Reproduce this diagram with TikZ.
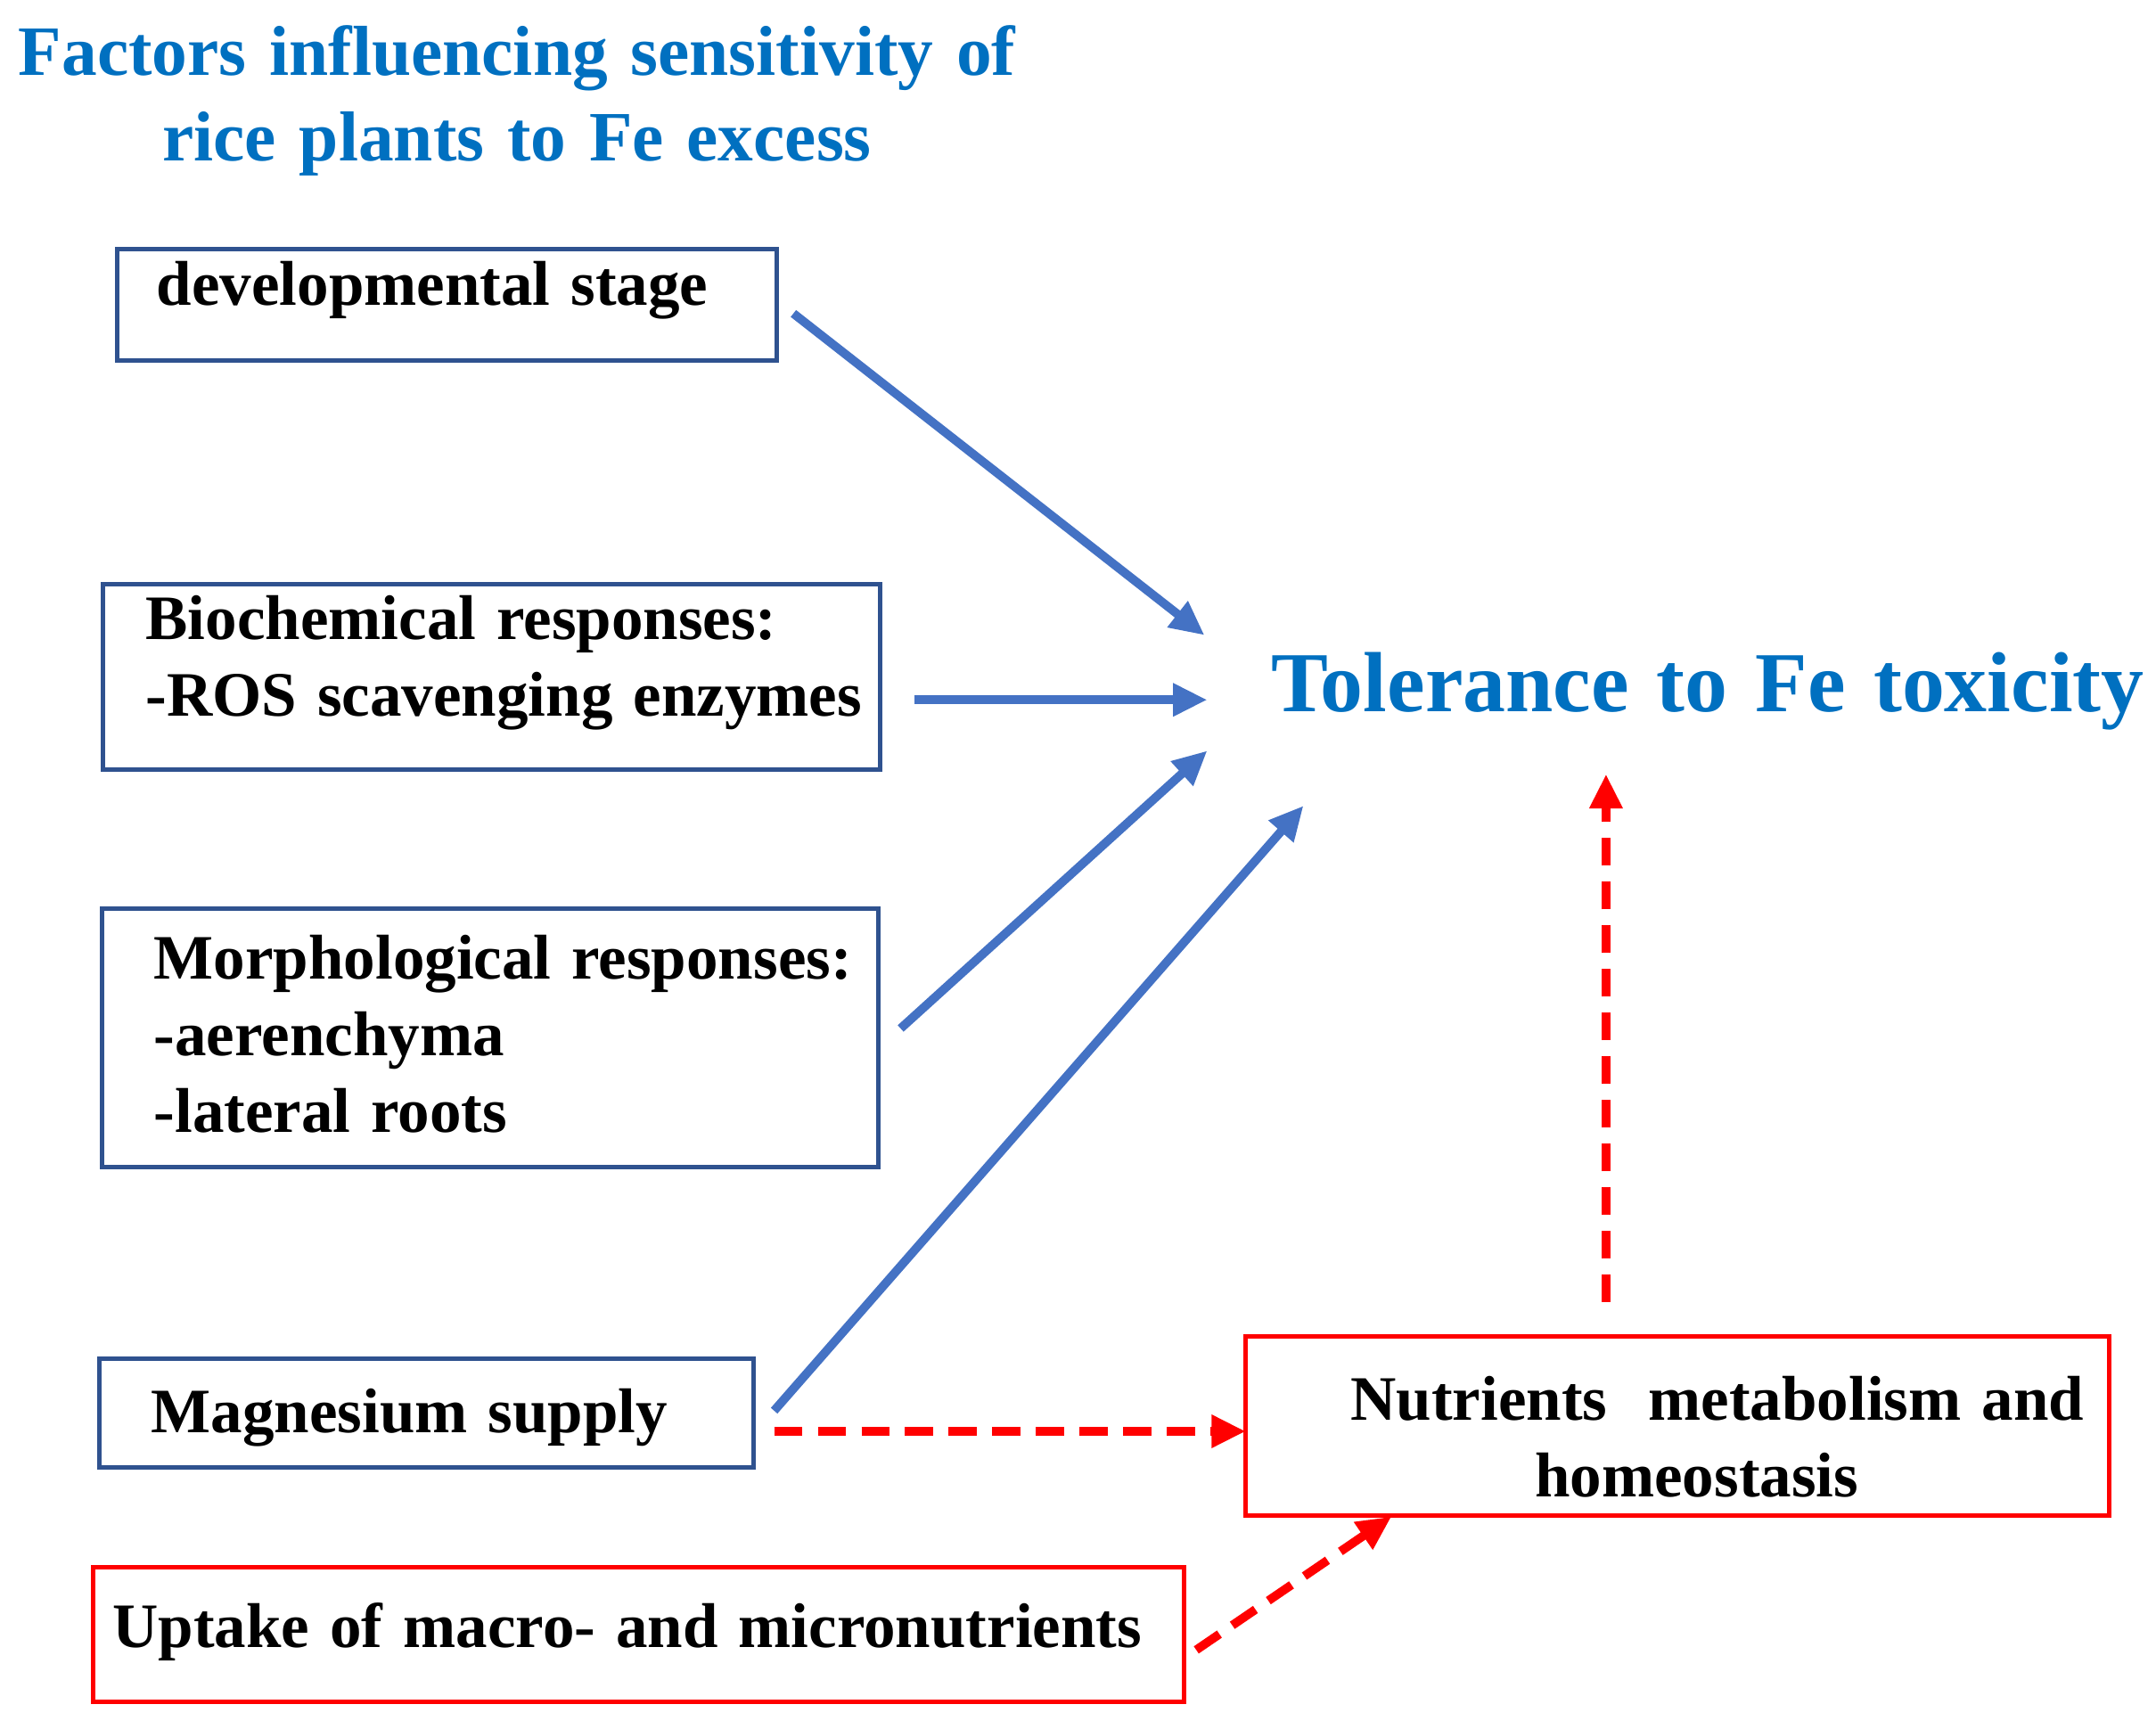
\documentclass[tikz,border=0pt]{standalone}
\usepackage{fontspec}
\setmainfont{Liberation Serif}[WordSpace={1.3}]
\usetikzlibrary{positioning}
\usetikzlibrary{arrows.meta}
\definecolor{titleblue}{RGB}{0,112,192}
\definecolor{boxblue}{RGB}{47,82,143}
\definecolor{arrblue}{RGB}{68,114,196}
\begin{document}
\begin{tikzpicture}[x=0.0155cm, y=-0.0155cm, font=\bfseries\fontsize{20.3}{24.7}\selectfont,
    bluebox/.style={draw=boxblue, line width=1.4pt},
    redbox/.style={draw=red, line width=1.4pt},
    bluearrow/.style={draw=arrblue, line width=2.8pt, -{Triangle[length=11pt,width=10pt]}},
    redarrow/.style={draw=red, line width=2.8pt, dash pattern=on 9pt off 5pt, -{Triangle[length=11pt,width=10pt]}}]

\useasboundingbox (0,0) rectangle (1568,1257);

% Title
\node[titleblue, font=\bfseries\fontsize{22.7}{27.5}\selectfont, align=center] (title) at (376,73)
    {Factors influencing sensitivity of\\rice plants to Fe excess};

% Factor boxes
\draw[bluebox] (85,181) rectangle (565,262);
\node[anchor=west] (dev) at (106,211) {developmental stage};
\draw[bluebox] (75,425) rectangle (640,560);
\node[anchor=west, align=left] (bio) at (98,482) {Biochemical responses:\\-ROS scavenging enzymes};
\draw[bluebox] (74,661) rectangle (639,849);
\node[anchor=west, align=left] (morph) at (104,752) {Morphological responses:\\-aerenchyma\\-lateral roots};
\draw[bluebox] (72,988) rectangle (548,1067);
\node[anchor=west] (mg) at (102,1031) {Magnesium supply};
\draw[redbox] (68,1140) rectangle (861,1238);
\node[anchor=west] (uptake) at (74,1187) {Uptake of macro- and micronutrients};
\draw[redbox] (906,972) rectangle (1534,1102);
\node[align=center] (nutr) at (1234,1045) {\ \ Nutrients\ \ metabolism and\\homeostasis};

% Target
\node[titleblue, font=\bfseries\fontsize{27.4}{32}\selectfont] (tol) at (1242,503) {Tolerance to Fe toxicity};

% Arrow end points
\coordinate (devE) at (577,228);
\coordinate (bioE) at (665,509);
\coordinate (morphE) at (655,748);
\coordinate (mgE) at (563,1026);
\coordinate (mgR) at (563,1041);
\coordinate (upE) at (870,1200);
\coordinate (nutrT) at (1168,947);
\coordinate (tolA) at (876,462);
\coordinate (tolB) at (878,509);
\coordinate (tolC) at (878,546);
\coordinate (tolD) at (948,586);
\coordinate (tolE) at (1168,563);
\coordinate (nutrL) at (906,1041);
\coordinate (nutrB) at (1012,1103);

% Connections
\draw[bluearrow] (devE) -- (tolA);
\draw[bluearrow] (bioE) -- (tolB);
\draw[bluearrow] (morphE) -- (tolC);
\draw[bluearrow] (mgE) -- (tolD);
\draw[redarrow] (mgR) -- (nutrL);
\draw[redarrow] (upE) -- (nutrB);
\draw[redarrow] (nutrT) -- (tolE);

\end{tikzpicture}
\end{document}
